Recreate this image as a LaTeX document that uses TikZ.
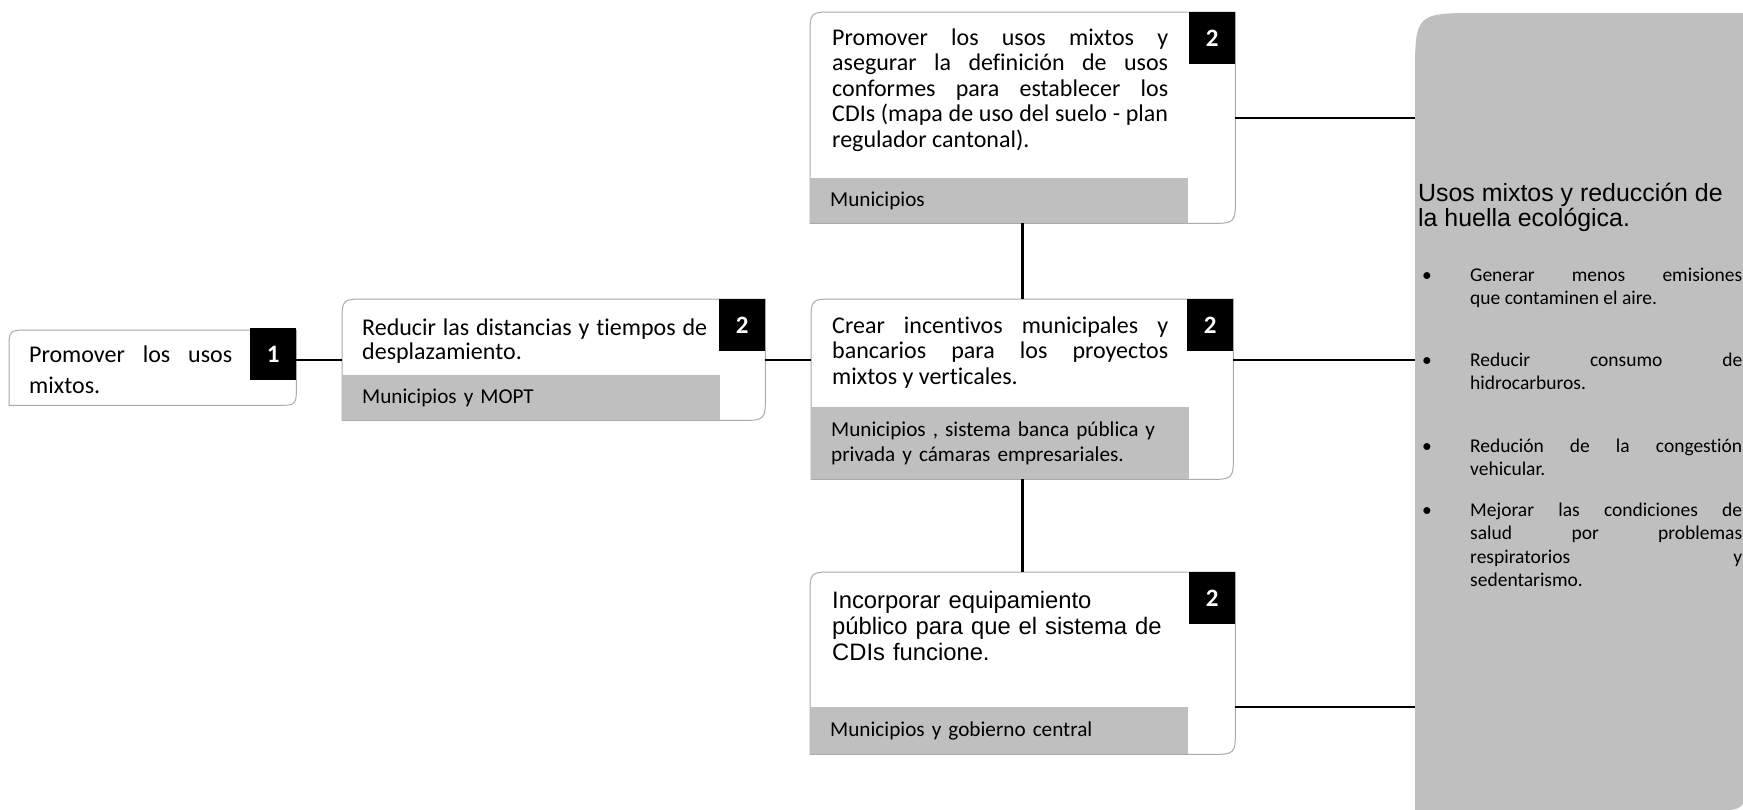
\documentclass[tikz,border=0pt]{standalone}
\usepackage{fontspec}
\setmainfont{Carlito}[Ligatures=NoCommon]
\newfontfamily\arialfont{Liberation Sans}
\usetikzlibrary{
calc,
positioning
}
\definecolor{stripgray}{RGB}{191,191,191}
\definecolor{framegray}{RGB}{170,170,170}

% #1 knoten, #2 radius oben links, #3 radius unten rechts, #4 stil
\newcommand{\drawcard}[4]{%
\path[#4] (#1.south west) -- ($(#1.north west)+(0,#2)$) .. controls (#1.north west) .. ($(#1.north west)+(#2,0)$)
 -- (#1.north east) -- ($(#1.south east)+(0,-#3)$) .. controls (#1.south east) .. ($(#1.south east)+(-#3,0)$) -- cycle;}

\tikzset{
frame/.style={draw=none, inner sep=0pt, anchor=north west},
card/.style={fill=white, draw=framegray, line width=1},
badge/.style={fill=black, text=white, inner sep=0pt, minimum width=46, minimum height=52, anchor=north east, font=\fontsize{25}{25}\selectfont\bfseries},
strip/.style={fill=stripgray, inner xsep=20, inner ysep=0pt, minimum width=378, minimum height=45, text width=338, anchor=south west, align=left, font=\fontsize{21.2}{25}\selectfont},
maintext/.style={inner sep=0pt, anchor=base west, text width=336, align=justify, font=\fontsize{24}{25.6}\selectfont},
conn/.style={line width=2},
vconn/.style={line width=3},
bullettext/.style={inner sep=0pt, anchor=base west, text width=272, align=justify, font=\fontsize{19.5}{23.3}\selectfont},
dot/.style={inner sep=0pt, anchor=base west, font=\fontsize{19.5}{23.3}\selectfont}
}

\begin{document}
\begin{tikzpicture}[x=1pt,y=-1pt]
\useasboundingbox (0,0) rectangle (1743,809);
\fill[white] (0,0) rectangle (1743,809);
\clip (0,0) rectangle (1743,809);

% rahmen
\node[frame, minimum width=287, minimum height=75] (b1) at (9,330) {};
\node[frame, minimum width=423, minimum height=121] (b2) at (342,299) {};
\node[frame, minimum width=425, minimum height=211] (ba) at (810,12) {};
\node[frame, minimum width=422, minimum height=180] (bb) at (811,299) {};
\node[frame, minimum width=425, minimum height=182] (bc) at (810,572) {};
\node[frame, minimum width=330, minimum height=797] (panel) at (1415,13) {};

\drawcard{b1}{20}{20}{card}
\drawcard{b2}{24}{26}{card}
\drawcard{ba}{24}{26}{card}
\drawcard{bb}{24}{26}{card}
\drawcard{bc}{24}{26}{card}
\drawcard{panel}{65}{35}{fill=stripgray}

% graue streifen
\node[strip] (s2) at (b2.south west) {Municipios y MOPT};
\node[strip] (sa) at (ba.south west) {Municipios};
\node[strip, minimum height=72] (sb) at (bb.south west) {Municipios , sistema banca pública y\\privada y cámaras empresariales.};
\node[strip, minimum height=47] (sc) at (bc.south west) {Municipios y gobierno central};

% nummern
\node[badge] (n1) at ($(b1.north east)+(0,-2)$) {1};
\node[badge] (n2) at (b2.north east) {2};
\node[badge] (na) at (ba.north east) {2};
\node[badge] (nb) at (bb.north east) {2};
\node[badge] (nc) at (bc.north east) {2};

% texte
\node[maintext, text width=203, font=\fontsize{24}{31}\selectfont] (t1) at ($(b1.north west)+(20,32)$) {Promover los usos\linebreak mixtos.};
\node[maintext, text width=345, font=\fontsize{24}{24}\selectfont] (t2) at ($(b2.north west)+(20,36)$) {Reducir las distancias y tiempos de\linebreak desplazamiento.};
\node[maintext] (ta) at ($(ba.north west)+(22,33)$) {Promover los usos mixtos y\linebreak asegurar la definición de usos\linebreak conformes para establecer los\linebreak CDIs (mapa de uso del suelo - plan\linebreak regulador cantonal).};
\node[maintext] (tb) at ($(bb.north west)+(21,34)$) {Crear incentivos municipales y\linebreak bancarios para los proyectos\linebreak mixtos y verticales.};
\node[maintext, text width=360, align=left, font=\arialfont\fontsize{23.8}{26}\selectfont] (tc) at ($(bc.north west)+(22,36)$) {Incorporar equipamiento\\público para que el sistema de\\CDIs funcione.};

% rechte seite
\node[inner sep=0pt, anchor=base west, align=left, font=\arialfont\fontsize{24.9}{23.5}\selectfont] (ptitle) at ($(panel.north west)+(3,213)$) {Usos mixtos y reducción de\\la huella ecológica.};
\node[bullettext] (pb1) at ($(ptitle.base west)+(52,55)$) {Generar menos emisiones\linebreak que contaminen el aire.};
\node[bullettext] (pb2) at ($(pb1.base west)+(0,85.5)$) {Reducir consumo de\linebreak hidrocarburos.};
\node[bullettext] (pb3) at ($(pb2.base west)+(0,85.5)$) {Redución de la congestión\linebreak vehicular.};
\node[bullettext] (pb4) at ($(pb3.base west)+(0,64.5)$) {Mejorar las condiciones de\linebreak salud por problemas\linebreak respiratorios y\linebreak sedentarismo.};
\foreach \i in {1,...,4}
{ \node[dot] (d\i) at ($(pb\i.base west)+(-48,0)$) {•};
}

% verbindungen
\draw[conn] (b1.east |- b2.west) -- (b2.west);
\draw[conn] (b2.east) -- (b2.east -| bb.west);
\draw[vconn] (ba.south) -- (ba.south |- bb.north);
\draw[vconn] (bb.south) -- (bb.south |- bc.north);
\draw[conn] (ba.east) -- (ba.east -| panel.west);
\draw[conn] (b2.east -| bb.east) -- (b2.east -| panel.west);
\draw[conn] (sc.north -| bc.east) -- (sc.north -| panel.west);
\end{tikzpicture}
\end{document}
